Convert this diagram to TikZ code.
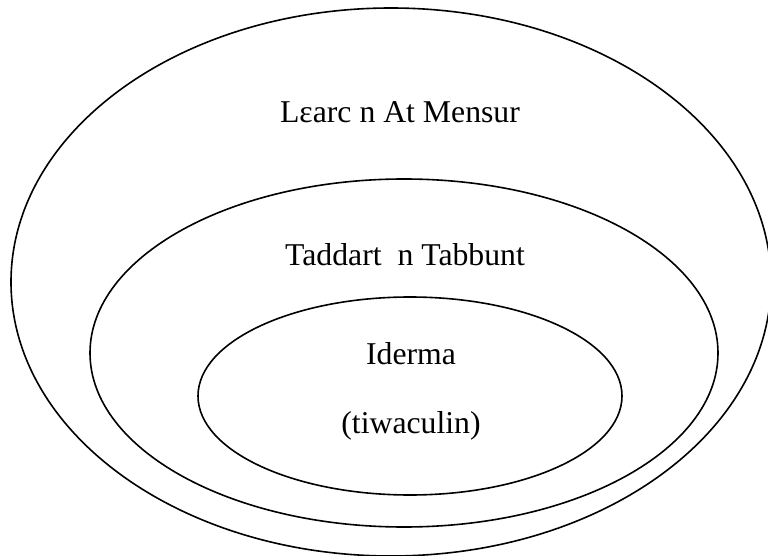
\documentclass[tikz,border=0pt]{standalone}
\usepackage{fontspec}
\setmainfont{Liberation Serif}
\begin{document}
\begin{tikzpicture}[x=0.75pt,y=-0.75pt,
  ring/.style={draw=black,line width=1.2pt},
  lbl/.style={anchor=base,inner sep=0pt,font=\fontsize{23.8}{28}\selectfont}]
\useasboundingbox (0,0) rectangle (768,556);
\clip (0,0) rectangle (768,556);
\draw[ring] (391,282) ellipse [x radius=380, y radius=274];
\draw[ring] (404,353) ellipse [x radius=314, y radius=174];
\draw[ring] (410,396) ellipse [x radius=212, y radius=99];
\node[lbl] (outer) at (400,123) {Lɛarc n At Mensur};
\node[lbl] (mid) at (405,266) {Taddart~ n Tabbunt};
\node[lbl] (in1) at (411,364) {Iderma};
\node[lbl] (in2) at (411,433) {(tiwaculin)};
\end{tikzpicture}
\end{document}
